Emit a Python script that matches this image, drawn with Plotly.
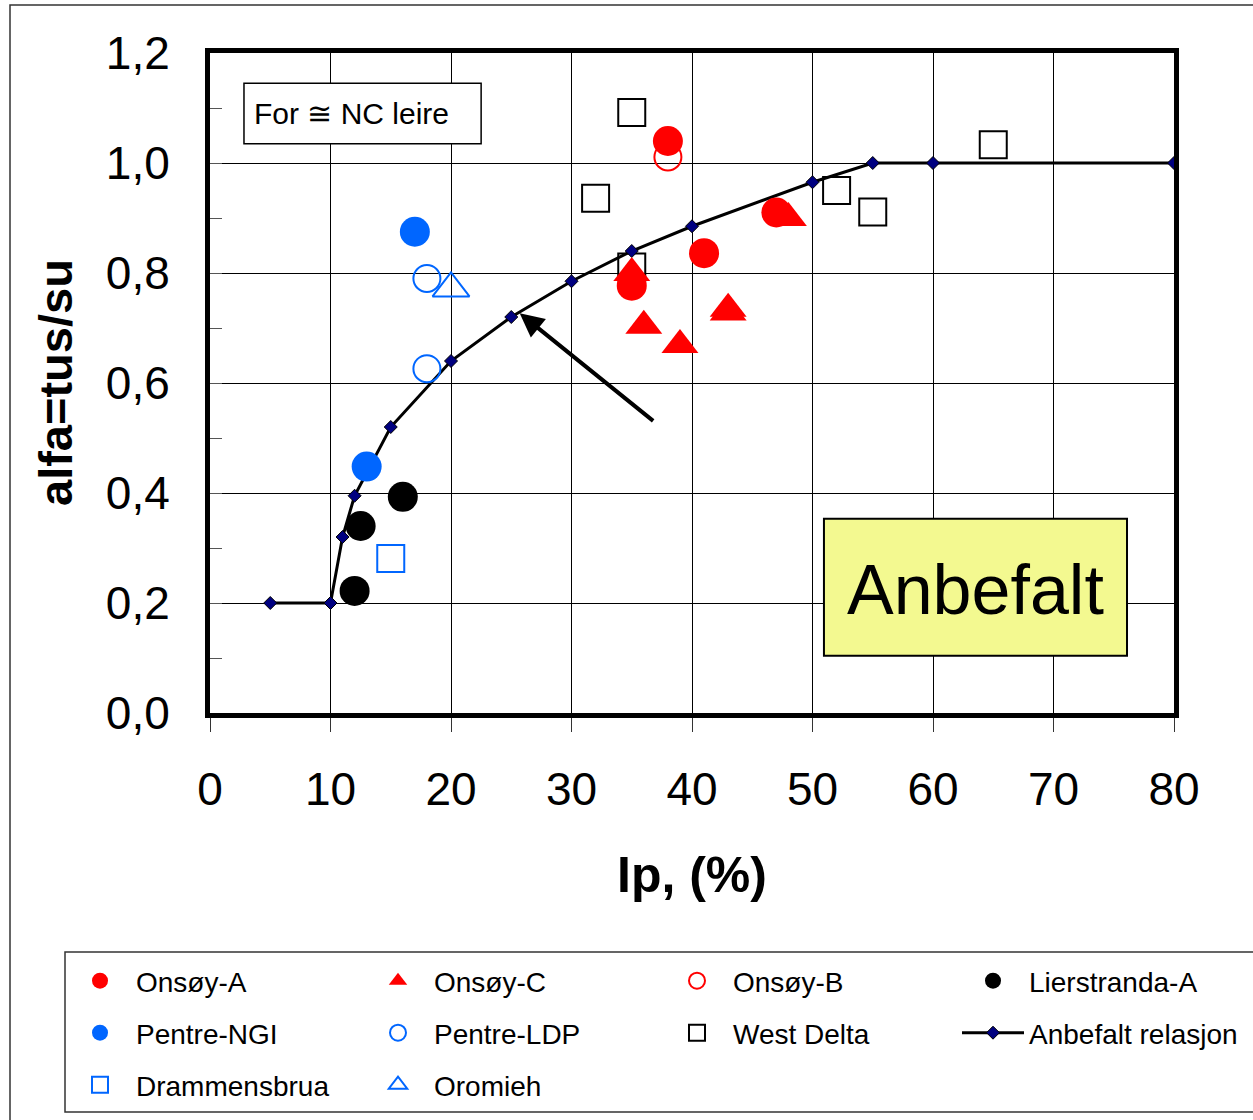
import plotly.graph_objects as go

# ---------------- data ----------------
onsoy_a_x = [35, 38, 41, 47]
onsoy_a_y = [0.777, 1.04, 0.836, 0.91]

onsoy_c_x = [35, 36, 39, 43, 43, 48]
onsoy_c_y = [0.80, 0.704, 0.669, 0.735, 0.728, 0.90]

onsoy_b_x = [38]
onsoy_b_y = [1.011]

lier_x = [12, 12.5, 16]
lier_y = [0.222, 0.34, 0.393]

pentre_ngi_x = [13, 17]
pentre_ngi_y = [0.448, 0.875]

pentre_ldp_x = [18, 18]
pentre_ldp_y = [0.79, 0.626]

west_delta_x = [32, 35, 35, 52, 55, 65]
west_delta_y = [0.936, 1.092, 0.811, 0.95, 0.911, 1.033]

anbefalt_x = [5, 10, 11, 12, 15, 20, 25, 30, 35, 40, 50, 55, 60, 80]
anbefalt_y = [0.2, 0.2, 0.32, 0.395, 0.52, 0.64, 0.72, 0.785, 0.84, 0.885, 0.965, 1.0, 1.0, 1.0]

drammen_x = [15]
drammen_y = [0.281]

oromieh_x = [20]
oromieh_y = [0.772]

y_ticks = [0, 0.2, 0.4, 0.6, 0.8, 1.0, 1.2]
y_ticktext = ["0,0", "0,2", "0,4", "0,6", "0,8", "1,0", "1,2"]
x_ticks = [0, 10, 20, 30, 40, 50, 60, 70, 80]

RED = "#FF0000"
BLUE = "#0066FF"
FONT = "Liberation Sans"

fig = go.Figure()

# draw order (back to front); each entry gets its own legend box
fig.add_trace(go.Scatter(x=west_delta_x, y=west_delta_y, mode="markers", name="West Delta",
                         marker=dict(symbol="square-open", size=27, color="black", line=dict(width=2)),
                         legend="legend7"))
fig.add_trace(go.Scatter(x=anbefalt_x, y=anbefalt_y, mode="lines+markers", name="Anbefalt relasjon",
                         line=dict(color="black", width=3),
                         marker=dict(symbol="diamond", size=10, color="#000080", line=dict(color="black", width=1)),
                         legend="legend8"))
fig.add_trace(go.Scatter(x=onsoy_a_x, y=onsoy_a_y, mode="markers", name="Onsøy-A",
                         marker=dict(symbol="circle", size=30, color=RED),
                         legend="legend"))
fig.add_trace(go.Scatter(x=onsoy_c_x, y=onsoy_c_y, mode="markers", name="Onsøy-C",
                         marker=dict(symbol="triangle-up", size=32, color=RED),
                         legend="legend2"))
fig.add_trace(go.Scatter(x=onsoy_b_x, y=onsoy_b_y, mode="markers", name="Onsøy-B",
                         marker=dict(symbol="circle-open", size=27, color=RED, line=dict(width=2)),
                         legend="legend3"))
fig.add_trace(go.Scatter(x=lier_x, y=lier_y, mode="markers", name="Lierstranda-A",
                         marker=dict(symbol="circle", size=30, color="black"),
                         legend="legend4"))
fig.add_trace(go.Scatter(x=pentre_ngi_x, y=pentre_ngi_y, mode="markers", name="Pentre-NGI",
                         marker=dict(symbol="circle", size=30, color=BLUE),
                         legend="legend5"))
fig.add_trace(go.Scatter(x=pentre_ldp_x, y=pentre_ldp_y, mode="markers", name="Pentre-LDP",
                         marker=dict(symbol="circle-open", size=27, color=BLUE, line=dict(width=2)),
                         legend="legend6"))
fig.add_trace(go.Scatter(x=drammen_x, y=drammen_y, mode="markers", name="Drammensbrua",
                         marker=dict(symbol="square-open", size=27, color=BLUE, line=dict(width=2)),
                         legend="legend9"))
fig.add_trace(go.Scatter(x=oromieh_x, y=oromieh_y, mode="markers", name="Oromieh",
                         marker=dict(symbol="triangle-up-open", size=32, color=BLUE, line=dict(width=2)),
                         legend="legend10"))

L, R, T, B = 210, 79, 53, 407
W, H = 1253, 1120
PW, PH = W - L - R, H - T - B


def px_x(p):
    return (p - L) / PW


def px_y(p):
    return (H - B - p) / PH


leg_common = dict(orientation="h", xanchor="left", yanchor="middle",
                  bgcolor="rgba(0,0,0,0)", borderwidth=0, itemwidth=62,
                  font=dict(family=FONT, size=28, color="black"))

marker_col_px = [100, 398, 697, 993]
row_px = [981, 1033, 1085]
legend_slots = {
    "legend": (0, 0), "legend2": (1, 0), "legend3": (2, 0), "legend4": (3, 0),
    "legend5": (0, 1), "legend6": (1, 1), "legend7": (2, 1), "legend8": (3, 1),
    "legend9": (0, 2), "legend10": (1, 2),
}
legend_layout = {name: dict(x=px_x(marker_col_px[c] - 36), y=px_y(row_px[r]), **leg_common)
                 for name, (c, r) in legend_slots.items()}

fig.update_layout(
    width=W, height=H,
    margin=dict(l=L, r=R, t=T, b=B, autoexpand=False),
    paper_bgcolor="white", plot_bgcolor="white",
    font=dict(family=FONT, color="black"),
    showlegend=True,
    xaxis=dict(range=[0, 80], tickvals=x_ticks, showgrid=True, gridcolor="black", gridwidth=1,
               showline=True, linecolor="black", linewidth=5, mirror=True,
               ticks="outside", ticklen=14, tickcolor="#333", tickwidth=1,
               tickfont=dict(family=FONT, size=46, color="black"), zeroline=False,
               ticklabelstandoff=18),
    yaxis=dict(range=[0, 1.2], tickvals=y_ticks, ticktext=y_ticktext, showgrid=True,
               gridcolor="black", gridwidth=1,
               showline=True, linecolor="black", linewidth=5, mirror=True,
               ticks="inside", ticklen=12, tickcolor="#555", tickwidth=1,
               minor=dict(dtick=0.1, ticks="inside", ticklen=12, tickcolor="#555", showgrid=False),
               tickfont=dict(family=FONT, size=46, color="black"), zeroline=False,
               ticklabelstandoff=26),
    **legend_layout,
)

# axis titles
fig.add_annotation(text="<b>Ip, (%)</b>", xref="paper", yref="paper", x=0.5, y=0,
                   yanchor="middle", yshift=-162, showarrow=False,
                   font=dict(family=FONT, size=50, color="black"))
fig.add_annotation(text="<b>alfa=tus/su</b>", xref="paper", yref="paper", x=0, y=0.5,
                   xanchor="center", xshift=-155, textangle=-90, showarrow=False,
                   font=dict(family=FONT, size=47, color="black"))

# text boxes
fig.add_shape(type="rect", xref="x", yref="y", x0=2.82, x1=22.5, y0=1.035, y1=1.145,
              line=dict(color="black", width=1.5), fillcolor="white", layer="above")
fig.add_annotation(text="For ≅ NC leire", xref="x", yref="y", x=3.5, y=1.09, xanchor="left",
                   yanchor="middle", showarrow=False, font=dict(family=FONT, size=30, color="black"))

fig.add_shape(type="rect", xref="x", yref="y", x0=50.95, x1=76.1, y0=0.104, y1=0.353,
              line=dict(color="black", width=2), fillcolor="#F3F990", layer="above")
fig.add_annotation(text="Anbefalt", xref="x", yref="y", x=63.5, y=0.224,
                   showarrow=False, font=dict(family=FONT, size=70, color="black"))

# arrow
fig.add_annotation(x=25.7, y=0.727, ax=36.9, ay=0.529, xref="x", yref="y", axref="x", ayref="y",
                   text="", showarrow=True, arrowhead=2, arrowsize=1.2, arrowwidth=4, arrowcolor="black")

# legend frame and outer frame
fig.add_shape(type="rect", xref="paper", yref="paper", x0=px_x(65), x1=px_x(1262),
              y0=px_y(1112), y1=px_y(952), line=dict(color="#333", width=1.5))
fig.add_shape(type="rect", xref="paper", yref="paper", x0=px_x(10), x1=px_x(1265),
              y0=px_y(1130), y1=px_y(5), line=dict(color="#333", width=1.5))

fig.write_html("out.html", config={"displayModeBar": False},
               post_script="document.body.style.margin='0';document.body.style.overflow='hidden';")
